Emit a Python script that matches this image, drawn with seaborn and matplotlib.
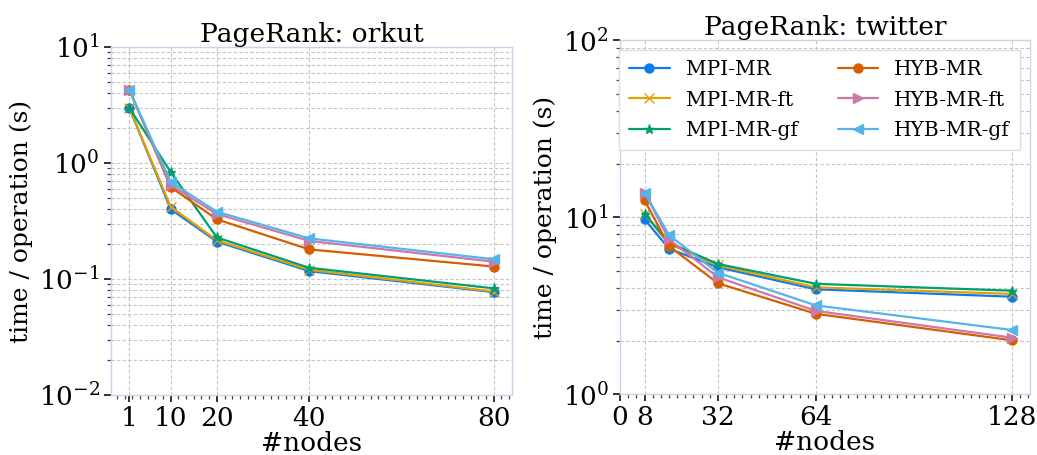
import numpy as np
import pandas as pd
import matplotlib
matplotlib.use("Agg")
import matplotlib.pyplot as plt
import matplotlib.ticker as mticker
import seaborn as sns

# ---------------- data ----------------
series = ["MPI-MR", "MPI-MR-ft", "MPI-MR-gf", "HYB-MR", "HYB-MR-ft", "HYB-MR-gf"]

orkut_nodes = [1, 10, 20, 40, 80]
orkut_mpi_mr = [3.0, 0.40, 0.21, 0.117, 0.077]
orkut_mpi_mr_ft = [3.0, 0.42, 0.215, 0.120, 0.078]
orkut_mpi_mr_gf = [3.0, 0.835, 0.228, 0.125, 0.083]
orkut_hyb_mr = [4.3, 0.62, 0.327, 0.180, 0.128]
orkut_hyb_mr_ft = [4.3, 0.645, 0.363, 0.213, 0.141]
orkut_hyb_mr_gf = [4.3, 0.686, 0.380, 0.224, 0.148]

twitter_nodes = [8, 16, 32, 64, 128]
twitter_mpi_mr = [9.75, 6.65, 5.22, 3.92, 3.56]
twitter_mpi_mr_ft = [10.4, 7.07, 5.35, 4.02, 3.69]
twitter_mpi_mr_gf = [10.5, 7.19, 5.45, 4.21, 3.85]
twitter_hyb_mr = [12.5, 6.88, 4.24, 2.85, 2.02]
twitter_hyb_mr_ft = [13.8, 7.51, 4.58, 2.96, 2.09]
twitter_hyb_mr_gf = [13.8, 7.94, 4.86, 3.18, 2.31]

orkut_xticks = [1, 10, 20, 40, 80]
twitter_xticks = [0, 8, 32, 64, 128]


def long_df(nodes, cols):
    rows = []
    for name, vals in zip(series, cols):
        for n, v in zip(nodes, vals):
            rows.append({"nodes": n, "time": v, "impl": name})
    return pd.DataFrame(rows)


df_orkut = long_df(orkut_nodes, [orkut_mpi_mr, orkut_mpi_mr_ft, orkut_mpi_mr_gf,
                                 orkut_hyb_mr, orkut_hyb_mr_ft, orkut_hyb_mr_gf])
df_twitter = long_df(twitter_nodes, [twitter_mpi_mr, twitter_mpi_mr_ft, twitter_mpi_mr_gf,
                                     twitter_hyb_mr, twitter_hyb_mr_ft, twitter_hyb_mr_gf])

# ---------------- style ----------------
sns.set_style("ticks")
plt.rcParams["font.family"] = ["DejaVu Serif"]
plt.rcParams["mathtext.fontset"] = "dejavuserif"
plt.rcParams["text.color"] = "black"
plt.rcParams["axes.labelcolor"] = "black"
plt.rcParams["xtick.color"] = "black"
plt.rcParams["ytick.color"] = "black"

palette = {
    "MPI-MR": "#0b7bef",
    "MPI-MR-ft": "#E69F00",
    "MPI-MR-gf": "#009E73",
    "HYB-MR": "#D55E00",
    "HYB-MR-ft": "#CC79A7",
    "HYB-MR-gf": "#56B4E9",
}
markers = {
    "MPI-MR": "o",
    "MPI-MR-ft": "x",
    "MPI-MR-gf": "*",
    "HYB-MR": "o",
    "HYB-MR-ft": ">",
    "HYB-MR-gf": "<",
}

fig = plt.figure(figsize=(10.37, 4.55), dpi=100)
ax1 = fig.add_axes([0.1070, 0.1319, 0.3867, 0.7648])
ax2 = fig.add_axes([0.5979, 0.1334, 0.3954, 0.7780])

spine_color = "#d0d0ec"
grid_kw = dict(color="#c4c4c4", linestyle=(0, (3, 2)), linewidth=0.8)
FS = 19


def draw(ax, df, title, xticks, ylim, minor_step):
    for name in series:
        sub = df[df["impl"] == name]
        sns.lineplot(data=sub, x="nodes", y="time", color=palette[name],
                     marker=markers[name], markersize=6.5, linewidth=1.6,
                     markeredgewidth=1.0, markeredgecolor=palette[name],
                     ax=ax, label=name)
    ax.set_yscale("log")
    ax.set_ylim(*ylim)
    ax.set_xticks(xticks)
    ax.xaxis.set_minor_locator(mticker.MultipleLocator(minor_step))
    ax.yaxis.set_major_locator(mticker.LogLocator(base=10))
    ax.yaxis.set_minor_locator(mticker.LogLocator(base=10, subs=np.arange(2, 10)))
    ax.yaxis.set_minor_formatter(mticker.NullFormatter())
    ax.grid(True, which="major", axis="both", **grid_kw)
    ax.grid(True, which="minor", axis="y", **grid_kw)
    ax.set_axisbelow(True)
    for s in ax.spines.values():
        s.set_color(spine_color)
        s.set_linewidth(1.0)
    ax.tick_params(axis="both", which="major", labelsize=FS, length=5, width=1.3,
                   color="#222222", direction="out", pad=3)
    ax.tick_params(axis="both", which="minor", length=3, width=0.9,
                   color="#444444", direction="out")
    ax.set_xlabel("#nodes", fontsize=FS, labelpad=0)
    ax.set_ylabel("time / operation (s)", fontsize=18, labelpad=4)
    ax.set_title(title, fontsize=FS, pad=3)


draw(ax1, df_orkut, "PageRank: orkut", orkut_xticks, (1e-2, 1e1), 5 / 3)
draw(ax2, df_twitter, "PageRank: twitter", twitter_xticks, (1e0, 1e2), 8 / 3)
ax2.set_xlim(left=0)

if ax1.get_legend() is not None:
    ax1.get_legend().remove()
handles, labels = ax2.get_legend_handles_labels()
leg = ax2.legend(handles, labels, ncol=2, loc="upper right", fontsize=14.5,
                 frameon=True, fancybox=False, edgecolor="#dddddd",
                 framealpha=1.0, handlelength=2.0, columnspacing=2.0,
                 borderaxespad=0.5, labelspacing=0.55, borderpad=0.5)
leg.get_frame().set_linewidth(1.0)

fig.savefig("out.png", dpi=100)
